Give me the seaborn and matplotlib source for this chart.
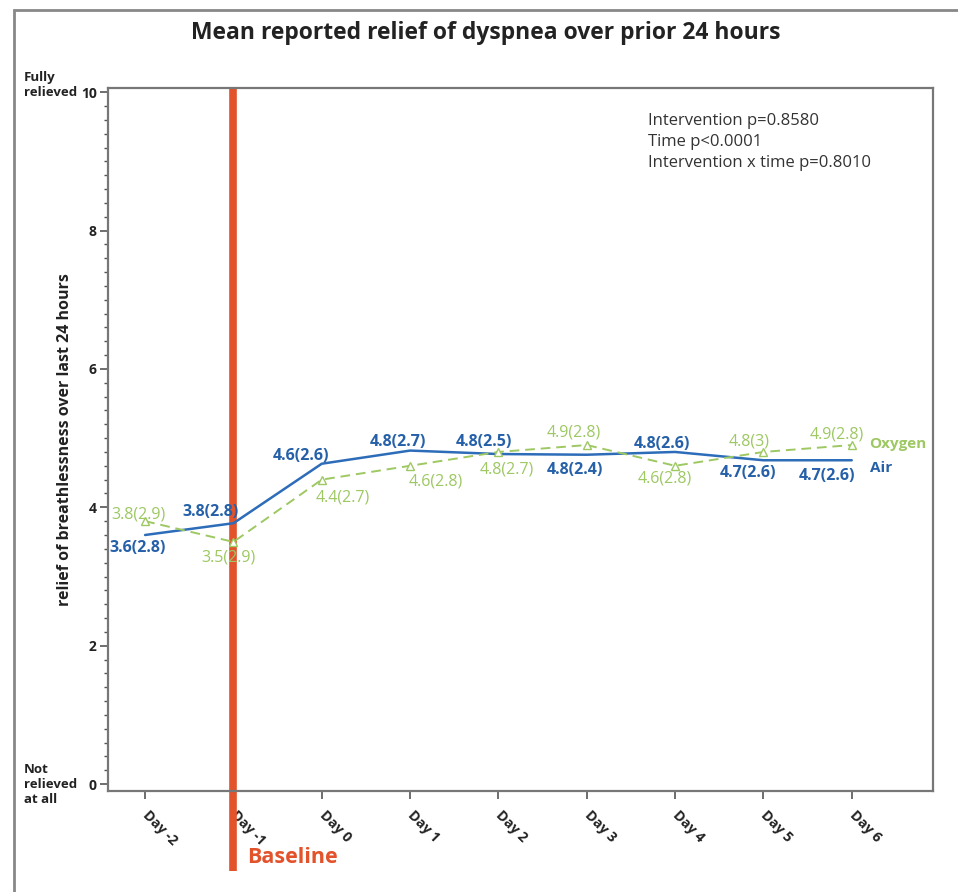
import numpy as np
import pandas as pd
import seaborn as sns
import matplotlib.pyplot as plt
from matplotlib.ticker import MultipleLocator
from matplotlib.patches import Rectangle

days = ['Day -2', 'Day -1', 'Day 0', 'Day 1', 'Day 2', 'Day 3', 'Day 4', 'Day 5', 'Day 6']
air_mean = [3.6, 3.77, 4.63, 4.82, 4.77, 4.76, 4.8, 4.68, 4.68]
air_sd = [2.8, 2.8, 2.6, 2.7, 2.5, 2.4, 2.6, 2.6, 2.6]
air_label = ['3.6', '3.8', '4.6', '4.8', '4.8', '4.8', '4.8', '4.7', '4.7']
oxy_mean = [3.8, 3.5, 4.4, 4.6, 4.8, 4.9, 4.6, 4.8, 4.9]
oxy_sd = ['2.9', '2.9', '2.7', '2.8', '2.7', '2.8', '2.8', '3', '2.8']
stats_text = ['Intervention p=0.8580', 'Time p<0.0001', 'Intervention x time p=0.8010']

# label offsets in pixels (dx, dy), layout only
air_off = [(-7, -13), (-23, 11), (-21, 8), (-12, 9), (-14, 12), (-12, -15), (-13, 8), (-15, -13), (-25, -16)]
oxy_off = [(-7, 7), (-5, -16), (21, -18), (26, -16), (8, -18), (-13, 13), (-10, -13), (-14, 10), (-15, 11)]

BLUE = '#2d6cb8'
BLUE_TXT = '#2560a8'
GREEN = '#9dc862'
RED = '#e2522b'
DARK = '#222222'

df = pd.DataFrame({'pos': list(range(len(days))) * 2,
                   'mean': air_mean + oxy_mean,
                   'group': ['Air'] * len(days) + ['Oxygen'] * len(days)})

sns.set_style('ticks')
plt.rcParams['font.family'] = ['Open Sans', 'DejaVu Sans']

fig = plt.figure(figsize=(9.58, 8.92), dpi=100)
ax = fig.add_axes([108 / 958, 1 - 791 / 892, (933 - 108) / 958, (791 - 88) / 892])

sns.lineplot(data=df[df.group == 'Air'], x='pos', y='mean', color=BLUE, lw=1.8, ax=ax)
sns.lineplot(data=df[df.group == 'Oxygen'], x='pos', y='mean', color=GREEN, lw=1.4,
             linestyle=(0, (5, 3)), marker='^', markersize=6, markerfacecolor='white',
             markeredgecolor=GREEN, markeredgewidth=1.0, ax=ax)

ax.set_xlim(-0.42, 8.92)
ax.set_ylim(-0.1, 10.06)
ax.yaxis.set_major_locator(MultipleLocator(2))
ax.yaxis.set_minor_locator(MultipleLocator(0.2))
ax.set_xticks(range(len(days)))
ax.set_xticklabels(days, rotation=-45, ha='left', va='center', rotation_mode='anchor',
                   fontsize=10, fontweight='bold', color=DARK)
for t in ax.get_yticklabels():
    t.set_fontweight('bold')
    t.set_fontsize(10)
    t.set_color(DARK)
ax.tick_params(axis='both', which='major', length=6, width=1.2, color='#555555', pad=2)
ax.tick_params(axis='x', pad=10)
ax.tick_params(axis='y', which='minor', length=3, width=1.0, color='#555555')
for s in ax.spines.values():
    s.set_color('#777777')
    s.set_linewidth(1.6)
ax.set_xlabel('')
ax.set_ylabel('relief of breathlessness over last 24 hours', fontsize=11.5, fontweight='bold',
              color=DARK, labelpad=6)

# end labels on the y axis
def side_label(txt, y, dy):
    ax.annotate(txt, xy=(0, y), xycoords=('axes fraction', 'data'), xytext=(-84, dy),
                textcoords='offset pixels', ha='left', va='center', fontsize=9.5,
                fontweight='bold', color=DARK, annotation_clip=False)

side_label('Fully', 10, 15)
side_label('relieved', 10, 0)
side_label('Not', 0, 15)
side_label('relieved', 0, 0)
side_label('at all', 0, -15)

# data labels
for i in range(len(days)):
    ax.annotate(f'{air_label[i]}({air_sd[i]})', xy=(i, air_mean[i]), xytext=air_off[i],
                textcoords='offset pixels', ha='center', va='center', fontsize=11.5,
                fontweight='bold', color=BLUE_TXT)
    ax.annotate(f'{oxy_mean[i]}({oxy_sd[i]})', xy=(i, oxy_mean[i]), xytext=oxy_off[i],
                textcoords='offset pixels', ha='center', va='center', fontsize=11.5,
                color=GREEN)
ax.annotate('Oxygen', xy=(8, oxy_mean[-1]), xytext=(17, 1), textcoords='offset pixels',
            ha='left', va='center', fontsize=11, fontweight='bold', color=GREEN)
ax.annotate('Air', xy=(8, air_mean[-1]), xytext=(18, -8), textcoords='offset pixels',
            ha='left', va='center', fontsize=11, fontweight='bold', color=BLUE_TXT)

# baseline marker
ax.plot([1, 1], [10.06, -1.26], color=RED, lw=5.5, clip_on=False, zorder=1,
        solid_capstyle='butt')
ax.text(1.15, -1.06, 'Baseline', color=RED, fontsize=15.5, fontweight='bold',
        ha='left', va='center', clip_on=False)

ax.text(0.655, 0.965, '\n'.join(stats_text), transform=ax.transAxes, ha='left', va='top',
        fontsize=12, color='#333333', linespacing=1.45)

fig.text(486 / 958, 1 - 33 / 892, 'Mean reported relief of dyspnea over prior 24 hours',
         ha='center', va='center', fontsize=16.5, fontweight='bold', color=DARK)

fig.patches.append(Rectangle((14 / 958, -0.1), 1.2, 1.1 - 10 / 892, transform=fig.transFigure,
                             fill=False, edgecolor='#888888', lw=2))

fig.savefig('out.png', dpi=100)
